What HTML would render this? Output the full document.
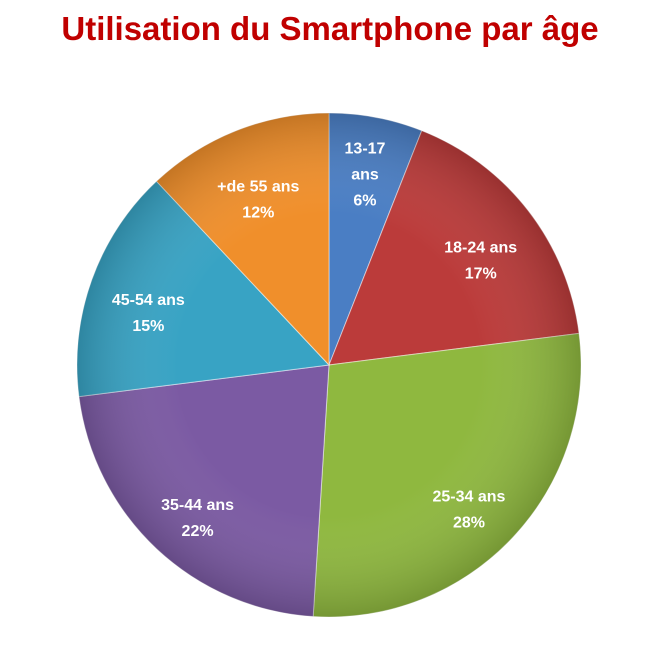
<!DOCTYPE html>
<html><head><meta charset="utf-8"><style>
body{margin:0;background:#fff;width:660px;height:651px;overflow:hidden}
svg{display:block}
</style></head><body>
<svg width="660" height="651" id="chart">
<defs>
<radialGradient id="shade" cx="0.5" cy="0.5" r="0.5">
<stop offset="0.6" stop-color="#fff" stop-opacity="0"/>
<stop offset="1" stop-color="#000" stop-opacity="0.18"/>
</radialGradient>
</defs>
<text x="330" y="40" text-anchor="middle" font-family="Liberation Sans, sans-serif" font-weight="bold" font-size="33" fill="#c00000">Utilisation du Smartphone par âge</text>
<g id="slices"></g>
<g id="labels"></g>
</svg>
<script>
const categories=["13-17 ans","18-24 ans","25-34 ans","35-44 ans","45-54 ans","+de 55 ans"];
const values=[6,17,28,22,15,12];
const colors=["#4a7ec4","#bb3b3a","#8fb83f","#7b5aa3","#38a3c4","#f08f2b"];
const cx=329,cy=365,R=252,LR=192;
const ns="http://www.w3.org/2000/svg";
const total=values.reduce((a,b)=>a+b,0);
const sG=document.getElementById('slices'),lG=document.getElementById('labels');
function pt(a,r){return [cx+r*Math.sin(a),cy-r*Math.cos(a)];}
let acc=0;
values.forEach((v,i)=>{
  const a0=acc/total*2*Math.PI;acc+=v;const a1=acc/total*2*Math.PI;
  const p0=pt(a0,R),p1=pt(a1,R);
  const large=(a1-a0)>Math.PI?1:0;
  const d=`M${cx},${cy}L${p0[0]},${p0[1]}A${R},${R} 0 ${large} 1 ${p1[0]},${p1[1]}Z`;
  const p=document.createElementNS(ns,'path');
  p.setAttribute('d',d);p.setAttribute('fill',colors[i]);
  p.setAttribute('stroke','#ffffff');p.setAttribute('stroke-opacity','0.5');p.setAttribute('stroke-width','1');
  
  
  sG.appendChild(p);
  const m=(a0+a1)/2;const lp=pt(m,LR);
  const t=document.createElementNS(ns,'text');
  t.setAttribute('text-anchor','middle');t.setAttribute('font-family','Liberation Sans, sans-serif');
  t.setAttribute('font-weight','bold');t.setAttribute('font-size','16');t.setAttribute('fill','#fff');
  
  
  let lines=[categories[i],v+'%'];
  if(v<10){const s=categories[i].split(' ');lines=[s[0],s[1],v+'%'];}
  const start=lp[1]-(lines.length-1)*13+(lines.length===2?18:3);
  lines.forEach((ln,j)=>{const ts=document.createElementNS(ns,'tspan');ts.setAttribute('x',lp[0]);ts.setAttribute('y',start+j*26);ts.textContent=ln;t.appendChild(ts);});
  lG.appendChild(t);
});
const c=document.createElementNS(ns,'circle');
c.setAttribute('cx',cx);c.setAttribute('cy',cy);c.setAttribute('r',R);c.setAttribute('fill','url(#shade)');c.setAttribute('pointer-events','none');


sG.appendChild(c);
</script>
</body></html>
